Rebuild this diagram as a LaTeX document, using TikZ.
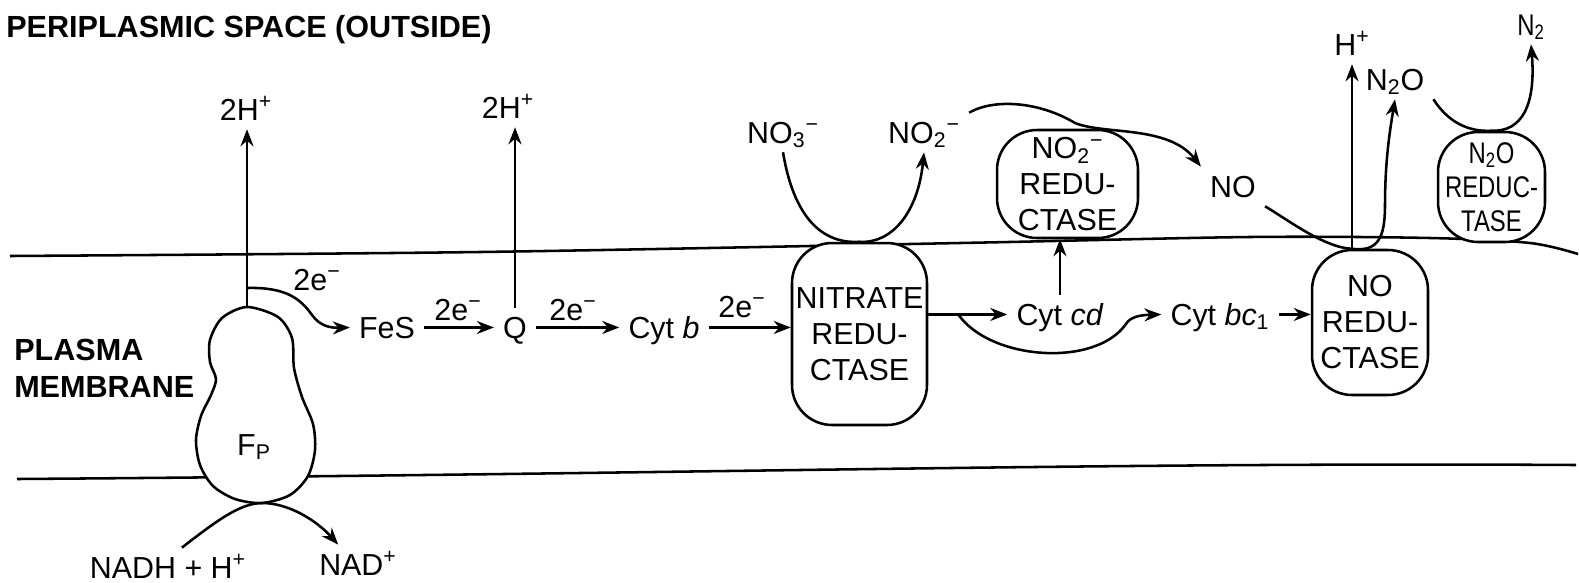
\documentclass[tikz,border=0pt]{standalone}
\usepackage{fontspec}
\setmainfont{Liberation Sans}
\newfontfamily\narrowsf[FakeStretch=0.8]{Liberation Sans}
\usetikzlibrary{arrows.meta}

\begin{document}
\begin{tikzpicture}[x=0.02cm, y=-0.02cm, line width=1.45pt,
    lbl/.style={font=\fontsize{17.3}{21}\selectfont, inner sep=1.6mm,
        text height=12pt, text depth=0pt, anchor=base},
    hdr/.style={font=\fontsize{17.4}{21}\selectfont\bfseries, inner sep=0pt, anchor=base west},
    enz/.style={draw, fill=white, rounded corners=0.8cm, align=center, inner sep=0pt,
        font=\fontsize{17.3}{20.5}\selectfont},
    arr/.style={-{Stealth[length=3.4mm, width=2.6mm]}}]
    \useasboundingbox (0,0) rectangle (1579,582);

    % membrane borders
    \draw plot[smooth] coordinates {(10,256) (480,252) (960,243) (1250,237) (1430,238) (1530,243) (1578,254)};
    \draw (17,479) .. controls (700,474) and (1100,462) .. (1576,465);

    % flavoprotein, drawn as a free shape
    \filldraw[fill=white] plot[smooth cycle] coordinates {(247,307) (278,317) (292,338) (294,368)
        (302,397) (313,424) (315,450) (308,476) (290,495) (262,503) (235,499) (213,486)
        (200,465) (196,440) (201,416) (211,395) (216,379) (210,362) (210,340) (222,318)};
    \coordinate (fptop) at (247,307);
    \coordinate (fpbr)  at (247,288);
    \coordinate (fpbot) at (262,503);
    \node[lbl] (fp) at (254,455) {F\textsubscript{P}};

    % headings
    \node[hdr] (peri)     at (5,37)   {PERIPLASMIC SPACE (OUTSIDE)};
    \node[hdr] (plasma)   at (13,360) {PLASMA};
    \node[hdr] (membrane) at (13,397) {MEMBRANE};

    % enzymes
    \node[enz, minimum width=2.7cm,  minimum height=3.64cm] (nit) at (859.5,334)  {NITRATE\\REDU-\\CTASE};
    \node[enz, minimum width=2.82cm, minimum height=2.16cm] (nir) at (1067.5,184) {NO\textsubscript{2}\textsuperscript{−}\\REDU-\\CTASE};
    \node[enz, minimum width=2.32cm, minimum height=2.9cm]  (nor) at (1370,322.5) {NO\\REDU-\\CTASE};
    \node[enz, font=\narrowsf\fontsize{17}{19.5}\selectfont,
        minimum width=2.14cm, minimum height=2.2cm] (nos) at (1491.5,187) {N\textsubscript{2}O\\REDUC-\\TASE};

    % carriers and substrates
    \node[lbl] (hp1)   at (246,120)  {2H\textsuperscript{+}};
    \node[lbl] (e1)    at (317,290)  {2e\textsuperscript{−}};
    \node[lbl] (fes)   at (387,338)  {FeS};
    \node[lbl] (e2)    at (458,320)  {2e\textsuperscript{−}};
    \node[lbl] (q)     at (515,338)  {Q};
    \node[lbl] (hp2)   at (508,118)  {2H\textsuperscript{+}};
    \node[lbl] (e3)    at (573,320)  {2e\textsuperscript{−}};
    \node[lbl] (cytb)  at (664,338)  {Cyt \textit{b}};
    \node[lbl] (e4)    at (742,317)  {2e\textsuperscript{−}};
    \node[lbl] (no3)   at (783,143)  {NO\textsubscript{3}\textsuperscript{−}};
    \node[lbl] (no2)   at (924,143)  {NO\textsubscript{2}\textsuperscript{−}};
    \node[lbl] (cytcd) at (1060,325) {Cyt \textit{cd}};
    \node[lbl] (bc1)   at (1220,325) {Cyt \textit{bc}\textsubscript{1}};
    \node[lbl] (no)    at (1233,197) {NO};
    \node[lbl] (hp3)   at (1352,55)  {H\textsuperscript{+}};
    \node[lbl] (n2o)   at (1395,90)  {N\textsubscript{2}O};
    \node[lbl, font=\narrowsf\fontsize{17}{19.5}\selectfont] (n2) at (1531,35) {N\textsubscript{2}};
    \node[lbl] (nadh)  at (168,578)  {NADH + H\textsuperscript{+}};
    \node[lbl] (nadp)  at (358,575)  {NAD\textsuperscript{+}};

    % electron chain
    \draw[arr] (fptop) -- (fptop |- hp1.south);
    \draw[arr] (fpbr) .. controls (285,287) and (300,298) .. (312,315)
        .. controls (320,326) and (330,328) .. (fes.west);
    \draw[arr] (fes) -- (q);
    \draw[arr] (q.north) -- (q.north |- hp2.south);
    \draw[arr] (q) -- (cytb);
    \draw[arr] (cytb.east) -- (cytb.east -| nit.west);
    \draw[arr] (nit.east |- cytcd.west) -- coordinate[pos=0.38] (brk) (cytcd.west);
    \draw[arr] (brk) .. controls (990,360) and (1095,368) .. (1126,324)
        .. controls (1130,317) and (1140,315) .. (bc1.west);
    \draw[arr] (cytcd.north) -- (cytcd.north |- nir.south);
    \draw[arr] (bc1.east) -- (bc1.east -| nor.west);
    \draw[arr] (nadh.55) .. controls (215,522) and (240,503) .. (fpbot)
        .. controls (290,503) and (318,522) .. (nadp.135);

    % nitrogen oxides
    \draw[arr] (no3.south) .. controls (795,225) and (828,244) .. (nit.north)
        .. controls (892,244) and (918,212) .. (no2.south);
    \draw[arr] (no2.north east) .. controls (995,98) and (1040,102) .. (1075,123)
        .. controls (1105,135) and (1168,125) .. (no.north west);
    \coordinate (nortop) at (hp3 |- nor.north);
    \draw (no.south east) .. controls (1288,220) and (1325,248) .. (nortop);
    \draw[arr] (nortop) -- (hp3.south);
    \draw[arr] (nortop) .. controls (1378,252) and (1385,238) .. (1385,205)
        .. controls (1385,160) and (1390,130) .. (n2o.south);
    \draw[arr] (n2o.south east) .. controls (1448,122) and (1468,132) .. (nos.north)
        .. controls (1522,132) and (1536,105) .. (n2.south);
\end{tikzpicture}
\end{document}
